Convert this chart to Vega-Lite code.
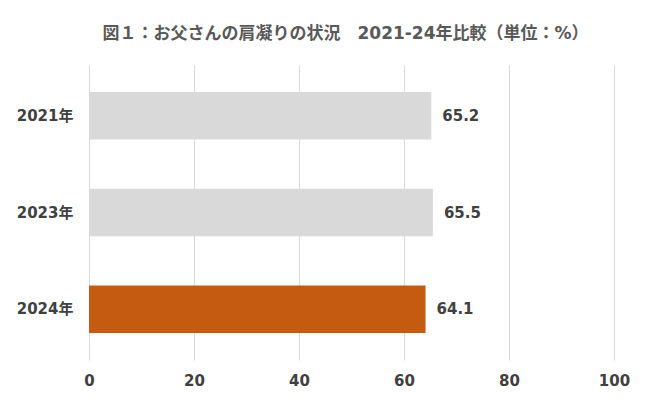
{
  "$schema": "https://vega.github.io/schema/vega-lite/v6.json",
  "autosize": "none",
  "width": 525,
  "height": 295,
  "padding": {"left": 89, "top": 65, "right": 36, "bottom": 43},
  "background": "white",
  "title": {
    "text": "図１：お父さんの肩凝りの状況　2021-24年比較（単位：%）",
    "font": "DejaVu Sans, Noto Sans CJK JP",
    "fontSize": 17,
    "fontWeight": "bold",
    "color": "#595959",
    "anchor": "middle",
    "offset": 22,
    "dx": -6
  },
  "data": {
    "values": [
      {"year": "2021年", "value": 65.2, "highlight": "no"},
      {"year": "2023年", "value": 65.5, "highlight": "no"},
      {"year": "2024年", "value": 64.1, "highlight": "yes"}
    ]
  },
  "encoding": {
    "y": {
      "field": "year",
      "type": "nominal",
      "sort": null,
      "scale": {"paddingInner": 0.51, "paddingOuter": 0.28},
      "axis": {
        "title": null,
        "domain": false,
        "ticks": false,
        "labelFont": "DejaVu Sans, Noto Sans CJK JP",
        "labelFontSize": 15,
        "labelFontWeight": "bold",
        "labelColor": "#404040",
        "labelPadding": 16
      }
    },
    "x": {
      "field": "value",
      "type": "quantitative",
      "scale": {"domain": [0, 100], "nice": false},
      "axis": {
        "title": null,
        "values": [0, 20, 40, 60, 80, 100],
        "domain": false,
        "ticks": false,
        "grid": true,
        "gridColor": "#d9d9d9",
        "gridWidth": 1,
        "labelFlush": false,
        "labelFont": "DejaVu Sans, Noto Sans CJK JP",
        "labelFontSize": 15,
        "labelFontWeight": "bold",
        "labelColor": "#404040",
        "labelPadding": 13
      }
    }
  },
  "layer": [
    {
      "mark": {"type": "bar"},
      "encoding": {
        "color": {
          "field": "highlight",
          "type": "nominal",
          "scale": {"domain": ["no", "yes"], "range": ["#d9d9d9", "#c55a11"]},
          "legend": null
        }
      }
    },
    {
      "mark": {
        "type": "text",
        "align": "left",
        "baseline": "middle",
        "dx": 11,
        "font": "DejaVu Sans, Noto Sans CJK JP",
        "fontSize": 15,
        "fontWeight": "bold",
        "color": "#404040"
      },
      "encoding": {
        "text": {"field": "value", "type": "quantitative", "format": ".1f"}
      }
    }
  ],
  "config": {"view": {"stroke": null}}
}
